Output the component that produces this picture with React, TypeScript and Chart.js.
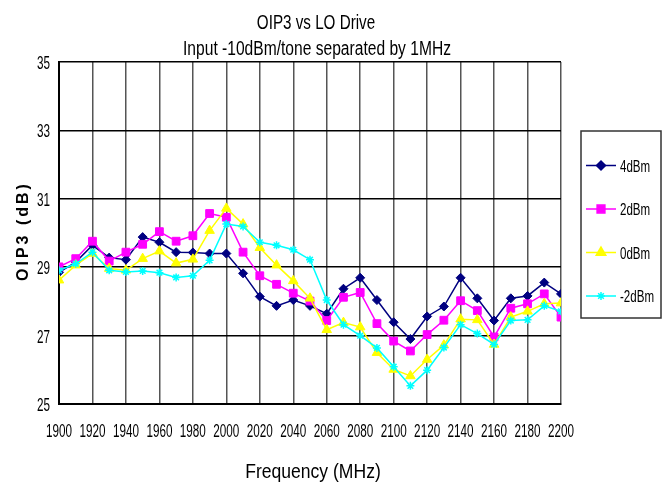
import React, { useEffect, useRef } from 'react';
import { Chart, registerables } from 'chart.js';
import { drawPoint } from 'chart.js/helpers';

Chart.register(...registerables);

const titleLines = ['OIP3 vs LO Drive', 'Input -10dBm/tone separated by 1MHz'];
const xTitle = 'Frequency (MHz)';
const yTitle = 'OIP3 (dB)';

const frequencies = [
  1900, 1910, 1920, 1930, 1940, 1950, 1960, 1970, 1980, 1990, 2000,
  2010, 2020, 2030, 2040, 2050, 2060, 2070, 2080, 2090, 2100,
  2110, 2120, 2130, 2140, 2150, 2160, 2170, 2180, 2190, 2200,
];

const lo4dBm = [
  28.85, 29.15, 29.64, 29.28, 29.22, 29.88, 29.73, 29.44, 29.43, 29.4, 29.4,
  28.82, 28.14, 27.87, 28.04, 27.87, 27.64, 28.37, 28.69, 28.04, 27.39,
  26.9, 27.56, 27.85, 28.69, 28.09, 27.44, 28.09, 28.16, 28.55, 28.22,
];
const lo2dBm = [
  29.01, 29.25, 29.76, 29.18, 29.44, 29.67, 30.04, 29.76, 29.92, 30.57, 30.46,
  29.44, 28.75, 28.5, 28.24, 28.01, 27.44, 28.12, 28.26, 27.35, 26.84,
  26.55, 27.03, 27.45, 28.02, 27.73, 26.96, 27.8, 27.93, 28.22, 27.54,
];
const lo0dBm = [
  28.62, 29.06, 29.4, 28.96, 28.91, 29.25, 29.47, 29.12, 29.23, 30.07, 30.72,
  30.26, 29.57, 29.06, 28.6, 28.09, 27.17, 27.38, 27.25, 26.5, 26.01,
  25.82, 26.3, 26.72, 27.48, 27.46, 26.74, 27.54, 27.71, 27.93, 27.95,
];
const loMinus2dBm = [
  28.91, 29.1, 29.44, 28.91, 28.86, 28.89, 28.84, 28.7, 28.75, 29.2, 30.26,
  30.19, 29.73, 29.64, 29.51, 29.22, 28.04, 27.32, 27.0, 26.64, 26.09,
  25.53, 25.99, 26.65, 27.32, 27.06, 26.74, 27.44, 27.46, 27.87, 27.71,
];

const seriesNames = ['4dBm', '2dBm', '0dBm', '-2dBm'];
const seriesValues = [lo4dBm, lo2dBm, lo0dBm, loMinus2dBm];
const seriesColors = ['#000080', '#FF00FF', '#FFFF00', '#00FFFF'];
const seriesMarkers = ['rectRot', 'rect', 'triangle', 'star'];
const seriesRadius = [4.5, 5.5, 5.5, 4];

const FONT = '"Liberation Sans", Arial, sans-serif';

function narrowText(
  ctx: CanvasRenderingContext2D,
  text: string,
  x: number,
  y: number,
  size: number,
  sx: number,
  align: CanvasTextAlign,
  baseline: CanvasTextBaseline,
) {
  ctx.save();
  ctx.font = `${size}px ${FONT}`;
  ctx.textAlign = align;
  ctx.textBaseline = baseline;
  ctx.translate(x, y);
  ctx.scale(sx, 1);
  ctx.fillText(text, 0, 0);
  ctx.restore();
}

const decorPlugin = {
  id: 'decor',
  afterDraw(chart: any) {
    const ctx: CanvasRenderingContext2D = chart.ctx;
    ctx.save();
    ctx.fillStyle = '#000';
    narrowText(ctx, titleLines[0], 316, 29, 19.5, 0.78, 'center', 'alphabetic');
    narrowText(ctx, titleLines[1], 317, 55, 19.5, 0.8, 'center', 'alphabetic');
    narrowText(ctx, xTitle, 313, 478, 19.5, 0.9, 'center', 'alphabetic');

    // tick labels from the library's scales
    const xs = chart.scales.x;
    const ys = chart.scales.y;
    xs.ticks.forEach((t: any) => {
      narrowText(ctx, String(t.value), xs.getPixelForValue(t.value), 437, 18, 0.65, 'center', 'alphabetic');
    });
    ys.ticks.forEach((t: any) => {
      narrowText(ctx, String(t.value), 50, ys.getPixelForValue(t.value) + 7, 18, 0.65, 'right', 'alphabetic');
    });

    ctx.save();
    ctx.translate(24, 231);
    ctx.rotate(-Math.PI / 2);
    ctx.font = `bold 16px ${FONT}`;
    (ctx as any).letterSpacing = '3px';
    ctx.textAlign = 'center';
    ctx.textBaseline = 'middle';
    ctx.fillText(yTitle, 0, 0);
    ctx.restore();

    // legend box
    const boxL = 581, boxT = 131, boxR = 661, boxB = 318;
    ctx.strokeStyle = '#333';
    ctx.lineWidth = 1.5;
    ctx.strokeRect(boxL, boxT, boxR - boxL, boxB - boxT);
    const rowY = [165.5, 209, 252.5, 296];
    chart.data.datasets.forEach((ds: any, i: number) => {
      const y = rowY[i];
      ctx.strokeStyle = ds.borderColor;
      ctx.fillStyle = ds.pointBackgroundColor;
      ctx.lineWidth = 1.5;
      ctx.beginPath();
      ctx.moveTo(586, y);
      ctx.lineTo(616, y);
      ctx.stroke();
      drawPoint(ctx, { pointStyle: ds.pointStyle, radius: ds.pointRadius, rotation: 0, borderWidth: ds.pointBorderWidth } as any, 601, y);
      ctx.fillStyle = '#000';
      narrowText(ctx, ds.label, 620, y + 6, 16.5, 0.7, 'left', 'alphabetic');
    });
    ctx.restore();
  },
};

export default function App() {
  const ref = useRef<HTMLCanvasElement | null>(null);
  useEffect(() => {
    if (!ref.current) return;
    const datasets = seriesNames.map((name, i) => ({
      label: name,
      data: frequencies.map((f, j) => ({ x: f, y: seriesValues[i][j] })),
      borderColor: seriesColors[i],
      backgroundColor: seriesColors[i],
      pointBackgroundColor: seriesColors[i],
      pointBorderColor: seriesColors[i],
      pointStyle: seriesMarkers[i],
      pointRadius: seriesRadius[i],
      pointBorderWidth: seriesMarkers[i] === 'star' ? 1.5 : 1,
      borderWidth: 1.5,
      tension: 0,
      fill: false,
      order: 3 - i,
    }));
    const chart = new Chart(ref.current, {
      type: 'line',
      data: { datasets } as any,
      plugins: [decorPlugin],
      options: {
        responsive: false,
        animation: false,
        devicePixelRatio: 1,
        layout: { padding: { top: 62, right: 107, left: 0, bottom: 0 } },
        plugins: {
          legend: { display: false },
          title: { display: false },
          tooltip: { enabled: false },
        },
        scales: {
          x: {
            type: 'linear',
            min: 1900,
            max: 2200,
            ticks: { stepSize: 20, display: false },
            grid: { color: '#555', lineWidth: 1.5, drawTicks: false },
            border: { color: '#000', width: 2 },
            afterFit: (s: any) => { s.height = 82; },
          },
          y: {
            min: 25,
            max: 35,
            ticks: { stepSize: 2, display: false },
            grid: { color: '#000', lineWidth: 1.5, drawTicks: false },
            border: { color: '#000', width: 2 },
            afterFit: (s: any) => { s.width = 59; },
          },
        },
      } as any,
    });
    return () => chart.destroy();
  }, []);
  return (
    <div style={{ position: 'absolute', left: 0, top: 0, width: 668, height: 486, background: '#fff' }}>
      <canvas ref={ref} width={668} height={486} style={{ display: 'block', width: 668, height: 486 }} />
    </div>
  );
}
